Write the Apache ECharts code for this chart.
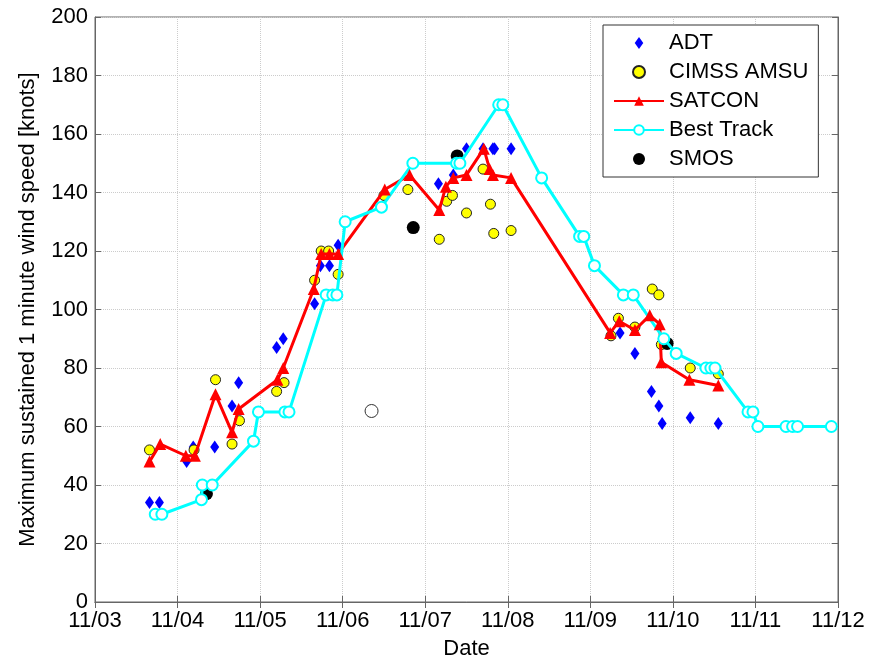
<!DOCTYPE html>
<html>
<head>
<meta charset="utf-8">
<script src="https://cdn.jsdelivr.net/npm/echarts@6/dist/echarts.min.js"></script>
<style>
  html, body { margin: 0; padding: 0; background: #fff; }
  #main { width: 881px; height: 661px; }
</style>
</head>
<body>
<div id="main"></div>
<script>
// x values are day numbers in November (3 = 11/03 00:00)
const adt_day = [3.66, 3.78, 4.11, 4.19, 4.45, 4.66, 4.74, 5.20, 5.28, 5.66, 5.73, 5.84, 5.945, 7.16, 7.34, 7.50, 7.70, 7.82, 7.84, 8.04, 9.36, 9.54, 9.74, 9.83, 9.87, 10.21, 10.55]
const adt_kt  = [34, 34, 48, 53, 53, 67, 75, 87, 90, 102, 115, 115, 122, 143, 146, 155, 155, 155, 155, 155, 92, 85, 72, 67, 61, 63, 61]

const amsu_day = [3.66, 4.20, 4.46, 4.66, 4.75, 5.20, 5.29, 5.66, 5.74, 5.83, 5.945, 6.50, 6.79, 7.17, 7.26, 7.33, 7.50, 7.70, 7.79, 7.83, 8.04, 9.25, 9.34, 9.54, 9.75, 9.83, 9.86, 10.21, 10.55]
const amsu_kt  = [52, 52, 76, 54, 62, 72, 75, 110, 120, 120, 112, 139, 141, 124, 137, 139, 133, 148, 136, 126, 127, 91, 97, 94, 107, 105, 88, 80, 78]

const satcon_day = [3.66, 3.79, 4.10, 4.21, 4.46, 4.66, 4.74, 5.21, 5.28, 5.65, 5.74, 5.84, 5.945, 6.51, 6.81, 7.17, 7.25, 7.34, 7.50, 7.71, 7.78, 7.82, 8.04, 9.24, 9.35, 9.54, 9.72, 9.84, 9.86, 10.20, 10.55]
const satcon_kt  = [48, 54, 50, 50, 71, 58, 66, 76, 80, 107, 119, 119, 119, 141, 146, 134, 142, 145, 146, 155, 148, 146, 145, 92, 96, 93, 98, 95, 82, 76, 74]

const best_day = [3.73, 3.81, 4.29, 4.30, 4.42, 4.92, 4.98, 5.30, 5.35, 5.80, 5.88, 5.93, 6.03, 6.47, 6.85, 7.38, 7.42, 7.89, 7.94, 8.41, 8.87, 8.92, 9.05, 9.40, 9.52, 9.89, 10.04, 10.40, 10.46, 10.51, 10.91, 10.97, 11.03, 11.37, 11.45, 11.51, 11.92]
const best_kt  = [30, 30, 35, 40, 40, 55, 65, 65, 65, 105, 105, 105, 130, 135, 150, 150, 150, 170, 170, 145, 125, 125, 115, 105, 105, 90, 85, 80, 80, 80, 65, 65, 60, 60, 60, 60, 60]

const smos_day = [4.35, 6.855, 7.387, 9.93]
const smos_kt  = [37, 128, 152.5, 88.4]

// unfilled SMOS-like marker, not in the legend
const open_day = [6.35]
const open_kt  = [65.3]

function pairs(xs, ys) {
  return xs.map((x, i) => [x, ys[i]])
}

const font = 'Liberation Sans, Arial, sans-serif'
const diamond_icon = 'path://M5,0 L10,7 L5,14 L0,7 Z'

var chartDom = document.getElementById('main');
var myChart = echarts.init(chartDom);
var option;

option = {
  animation: false,
  backgroundColor: '#fff',
  textStyle: { fontFamily: font, color: '#000' },
  grid: {
    left: 95, right: 43, top: 17, bottom: 59,
    containLabel: false,
    outerBoundsMode: 'none',
    show: true, borderColor: '#666', borderWidth: 1
  },
  legend: {
    orient: 'vertical',
    left: 603,
    top: 25,
    padding: [7, 10, 7, 10],
    itemGap: 7,
    itemWidth: 50,
    itemHeight: 12,
    backgroundColor: '#fff',
    borderColor: '#333',
    borderWidth: 1,
    textStyle: { fontFamily: font, fontSize: 22, lineHeight: 22, color: '#000' },
    data: [
      { name: 'ADT', icon: diamond_icon },
      'CIMSS AMSU', 'SATCON', 'Best Track', 'SMOS'
    ]
  },
  xAxis: [
    {
      type: 'value',
      min: 3, max: 12, interval: 1,
      name: 'Date',
      nameLocation: 'middle',
      nameGap: 36,
      nameTextStyle: { fontFamily: font, fontSize: 22, color: '#000' },
      axisLine: { show: true, lineStyle: { color: '#666' } },
      axisTick: { show: true, inside: true, length: 6, lineStyle: { color: '#666' } },
      axisLabel: {
        fontFamily: font, fontSize: 22, color: '#000', margin: 8,
        formatter: function (v) { return '11/' + (v < 10 ? '0' : '') + v }
      },
      splitLine: { show: true, lineStyle: { color: '#ccc', type: 'dotted' } }
    },
    {
      type: 'value', position: 'top',
      min: 3, max: 12, interval: 1,
      axisLine: { show: true, lineStyle: { color: '#666' } },
      axisTick: { show: true, inside: true, length: 6, lineStyle: { color: '#666' } },
      axisLabel: { show: false },
      splitLine: { show: false }
    }
  ],
  yAxis: [
    {
      type: 'value',
      min: 0, max: 200, interval: 20,
      name: 'Maximum sustained 1 minute wind speed [knots]',
      nameLocation: 'middle',
      nameGap: 56,
      nameTextStyle: { fontFamily: font, fontSize: 22, color: '#000' },
      axisLine: { show: true, lineStyle: { color: '#666' } },
      axisTick: { show: true, inside: true, length: 6, lineStyle: { color: '#666' } },
      axisLabel: { fontFamily: font, fontSize: 22, color: '#000', margin: 7 },
      splitLine: { show: true, lineStyle: { color: '#ccc', type: 'dotted' } }
    },
    {
      type: 'value', position: 'right',
      min: 0, max: 200, interval: 20,
      axisLine: { show: true, lineStyle: { color: '#666' } },
      axisTick: { show: true, inside: true, length: 6, lineStyle: { color: '#666' } },
      axisLabel: { show: false },
      splitLine: { show: false }
    }
  ],
  series: [
    {
      name: 'ADT',
      type: 'scatter',
      symbol: 'diamond',
      symbolSize: [9, 13],
      itemStyle: { color: '#0000ff', opacity: 1 },
      data: pairs(adt_day, adt_kt)
    },
    {
      name: 'CIMSS AMSU',
      type: 'scatter',
      symbol: 'circle',
      symbolSize: 10,
      itemStyle: { color: '#ffff00', borderColor: '#222', borderWidth: 1, opacity: 1 },
      data: pairs(amsu_day, amsu_kt)
    },
    {
      name: 'SATCON',
      type: 'line',
      symbol: 'triangle',
      symbolSize: 12,
      showAllSymbol: true,
      lineStyle: { color: '#ff0000', width: 3 },
      itemStyle: { color: '#ff0000' },
      data: pairs(satcon_day, satcon_kt)
    },
    {
      name: 'Best Track',
      type: 'line',
      symbol: 'emptyCircle',
      symbolSize: 11,
      showAllSymbol: true,
      lineStyle: { color: '#00ffff', width: 3 },
      itemStyle: { color: '#00ffff', borderColor: '#00ffff', borderWidth: 2.5 },
      data: pairs(best_day, best_kt)
    },
    {
      name: 'SMOS',
      type: 'scatter',
      symbol: 'circle',
      symbolSize: 13,
      itemStyle: { color: '#000', opacity: 1 },
      data: pairs(smos_day, smos_kt)
    },
    {
      name: 'SMOS open',
      type: 'scatter',
      symbol: 'circle',
      symbolSize: 13,
      itemStyle: { color: '#fff', borderColor: '#333', borderWidth: 1, opacity: 1 },
      data: pairs(open_day, open_kt)
    }
  ]
};
option && myChart.setOption(option);
</script>
</body>
</html>
